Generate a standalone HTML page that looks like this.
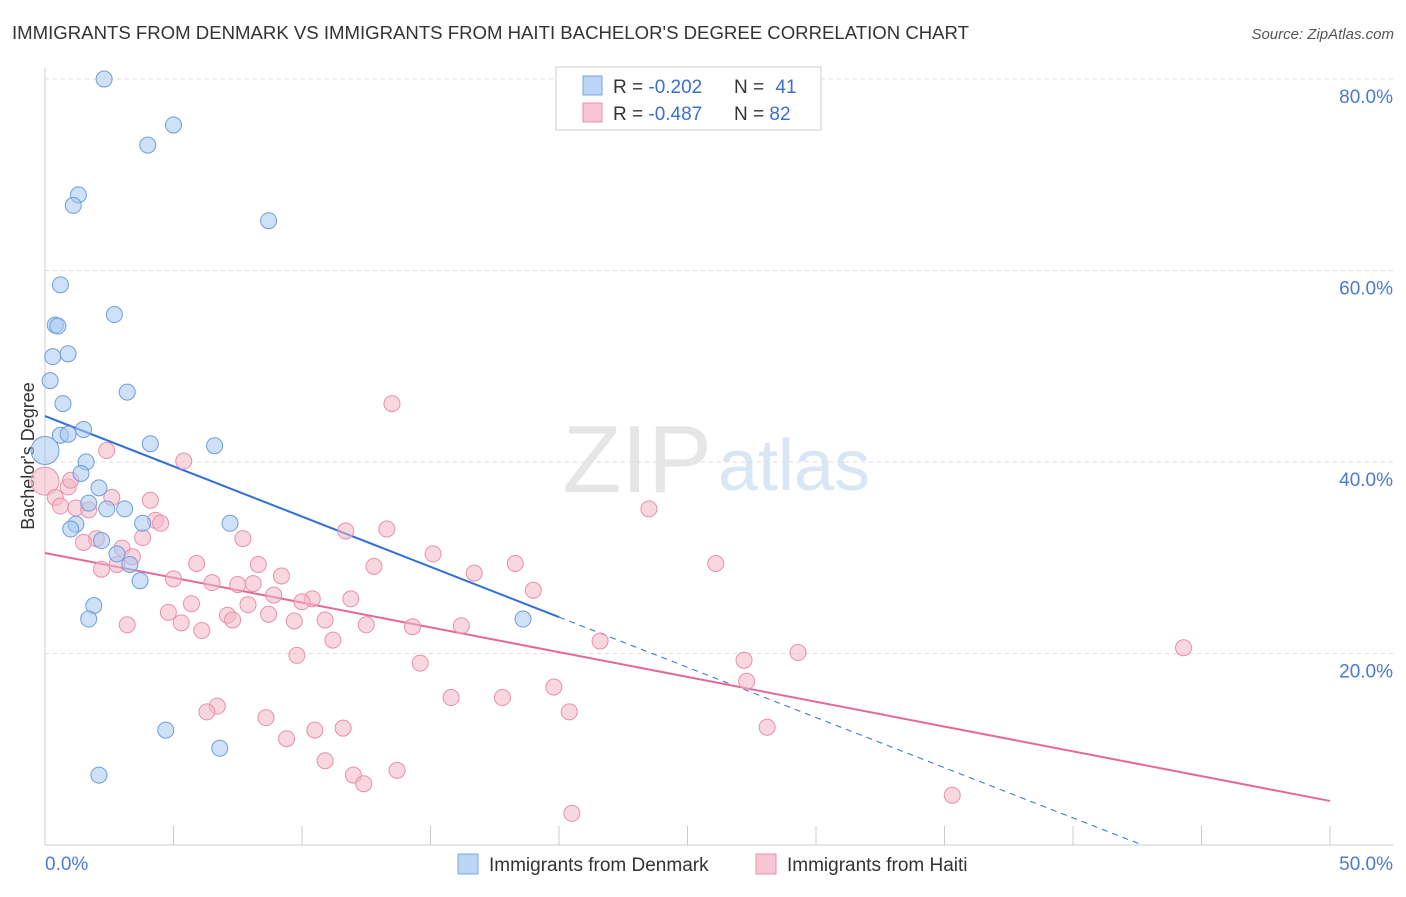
<!DOCTYPE html>
<html><head><meta charset="utf-8">
<style>
body{margin:0;background:#fff;font-family:"Liberation Sans",sans-serif;}
svg text{font-family:"Liberation Sans",sans-serif;}
</style></head>
<body>
<svg id="chart" width="1406" height="892" viewBox="0 0 1406 892">
<text x="12" y="39" font-size="18" fill="#333" textLength="957" lengthAdjust="spacingAndGlyphs">IMMIGRANTS FROM DENMARK VS IMMIGRANTS FROM HAITI BACHELOR'S DEGREE CORRELATION CHART</text>
<text x="1394" y="39" font-size="15" fill="#555" text-anchor="end" font-style="italic">Source: ZipAtlas.com</text>
<text x="712" y="492" font-size="96" fill="#e6e6e6" text-anchor="end" font-family="Liberation Serif">ZIP</text>
<text x="718" y="490" font-size="72" fill="#d8e6f5">atlas</text>
<g id="grid"></g>
<g id="axes"></g>
<text transform="translate(34,456) rotate(-90)" font-size="18" fill="#333" text-anchor="middle">Bachelor's Degree</text>
<g id="trends"></g>
<g id="points"></g>
<g>
<rect x="556" y="67" width="265" height="63" fill="#fff" stroke="#ccc"/>
<rect x="583" y="76" width="19" height="19" fill="#bcd4f5" stroke="#7aa6e0"/>
<rect x="583" y="103" width="19" height="19" fill="#f9c4d3" stroke="#e890aa"/>
<text x="613" y="93" font-size="19" fill="#333">R = <tspan fill="#3b6fd4">-0.202</tspan></text>
<text x="734" y="93" font-size="19" fill="#333">N = <tspan dx="6" fill="#3b6fd4">41</tspan></text>
<text x="613" y="120" font-size="19" fill="#333">R = <tspan fill="#3b6fd4">-0.487</tspan></text>
<text x="734" y="120" font-size="19" fill="#333">N = <tspan fill="#3b6fd4">82</tspan></text>
</g>
<g>
<rect x="458" y="854" width="20" height="20" fill="#bcd4f5" stroke="#7aa6e0"/>
<text x="489" y="871" font-size="19" fill="#333">Immigrants from Denmark</text>
<rect x="756" y="854" width="20" height="20" fill="#f9c4d3" stroke="#e890aa"/>
<text x="787" y="871" font-size="19" fill="#333">Immigrants from Haiti</text>
</g>
</svg>
<script>
const yTicks=[20,40,60,80];
const yTickLabels=["20.0%","40.0%","60.0%","80.0%"];
const xTickCount=[0,5,10,15,20,25,30,35,40,45,50];
const denmarkX=[2.3,5.0,4.0,1.3,1.1,8.7,0.6,2.7,0.4,0.5,0.9,0.3,0.2,3.2,0.7,4.1,6.6,1.5,0.6,0.9,0.0,1.6,1.4,2.1,1.7,2.4,3.1,3.8,1.2,1.0,7.2,2.2,2.8,3.3,3.7,1.9,1.7,18.6,4.7,6.8,2.1];
const denmarkY=[80.0,75.2,73.1,67.9,66.8,65.2,58.5,55.4,54.3,54.2,51.3,51.0,48.5,47.3,46.1,41.9,41.7,43.4,42.8,42.9,41.2,40.0,38.8,37.3,35.7,35.1,35.1,33.6,33.5,33.0,33.6,31.8,30.4,29.3,27.6,25.0,23.6,23.6,12.0,10.1,7.3];
const haitiX=[13.5,5.4,2.4,0.0,0.9,1.0,0.4,2.6,4.1,0.6,1.2,1.7,4.3,4.5,23.5,11.7,13.3,7.7,3.8,2.0,1.5,3.0,15.1,3.4,2.8,8.3,18.3,12.8,26.1,2.2,5.0,5.9,9.2,16.7,6.5,7.5,8.1,19.0,8.9,10.4,10.0,11.9,5.7,7.9,4.8,7.1,8.7,7.3,5.3,9.7,10.9,12.5,3.2,6.1,14.3,16.2,11.2,21.6,9.8,14.6,29.3,27.2,44.3,19.8,27.3,15.8,17.8,6.7,6.3,20.4,8.6,28.1,10.5,11.6,9.4,10.9,13.7,12.0,12.4,35.3,20.5];
const haitiY=[46.1,40.1,41.2,38.0,37.4,38.1,36.3,36.3,36.0,35.4,35.2,35.0,33.9,33.6,35.1,32.8,33.0,32.0,32.1,32.0,31.6,31.0,30.4,30.1,29.3,29.3,29.4,29.1,29.4,28.8,27.8,29.4,28.1,28.4,27.4,27.2,27.3,26.6,26.1,25.7,25.4,25.7,25.2,25.1,24.3,24.0,24.1,23.5,23.2,23.4,23.5,23.0,23.0,22.4,22.8,22.9,21.4,21.3,19.8,19.0,20.1,19.3,20.6,16.5,17.1,15.4,15.4,14.5,13.9,13.9,13.3,12.3,12.0,12.2,11.1,8.8,7.8,7.3,6.4,5.2,3.3];
const blueTrend=[0,44.8,20,23.8,42.7,0];
const pinkTrend=[0,30.5,50,4.6];
const NS="http://www.w3.org/2000/svg";
const X=v=>45+v*25.7, Y=v=>845-v*9.575;
function mk(t,a,p){const e=document.createElementNS(NS,t);for(const k in a)e.setAttribute(k,a[k]);p.appendChild(e);return e;}
const grid=document.getElementById('grid'),axes=document.getElementById('axes');
yTicks.forEach((v,i)=>{
 const l=mk('line',{x1:45,x2:1393,y1:Y(v),y2:Y(v),stroke:'#ddd','stroke-dasharray':'4,4'},grid);
 
 const t=mk('text',{x:1393,y:Y(v)+24,'font-size':19,fill:'#4a7bd0','text-anchor':'end'},axes);
 t.textContent=yTickLabels[i];
 
});
const ax=mk('line',{x1:45,x2:1393,y1:845,y2:845,stroke:'#ccc'},axes);

const ay=mk('line',{x1:45,x2:45,y1:68,y2:845,stroke:'#ccc'},axes);

xTickCount.forEach(v=>{const l=mk('line',{x1:X(v),x2:X(v),y1:826,y2:845,stroke:'#ccc'},axes);
 });
let t=mk('text',{x:45,y:870,'font-size':19,fill:'#4a7bd0'},axes);t.textContent='0.0%';

t=mk('text',{x:1393,y:870,'font-size':19,fill:'#4a7bd0','text-anchor':'end'},axes);t.textContent='50.0%';

const pts=document.getElementById('points');
function dots(xs,ys,fill,stroke,name){xs.forEach((x,i)=>{const c=mk('circle',{cx:X(x),cy:Y(ys[i]),r:(x===0?14:8),fill:fill,'fill-opacity':0.55,stroke:stroke,'stroke-width':1},pts);
 });}
dots(haitiX,haitiY,'#f4b6c8','#e890aa','haiti-point');
dots(denmarkX,denmarkY,'#a8c8f0','#6f9ddc','denmark-point');
const tr=document.getElementById('trends');
let l=mk('line',{x1:X(blueTrend[0]),y1:Y(blueTrend[1]),x2:X(blueTrend[2]),y2:Y(blueTrend[3]),stroke:'#2f6fd6','stroke-width':2},tr);

l=mk('line',{x1:X(blueTrend[2]),y1:Y(blueTrend[3]),x2:X(blueTrend[4]),y2:Y(blueTrend[5]),stroke:'#2f6fd6','stroke-width':1,'stroke-dasharray':'6,5'},tr);

l=mk('line',{x1:X(pinkTrend[0]),y1:Y(pinkTrend[1]),x2:X(pinkTrend[2]),y2:Y(pinkTrend[3]),stroke:'#e5689a','stroke-width':2},tr);

</script>
</body></html>
